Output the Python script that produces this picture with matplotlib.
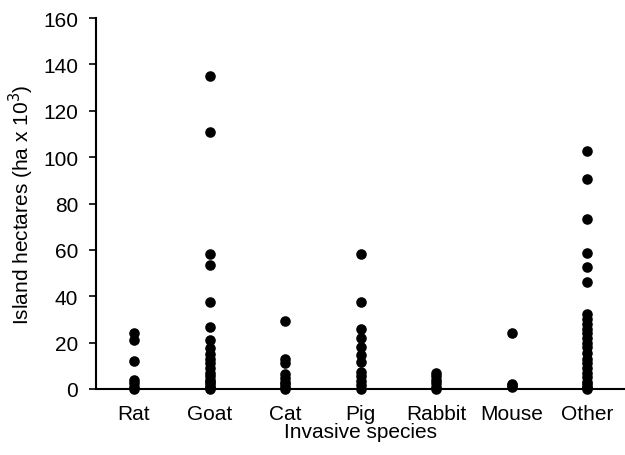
import matplotlib
matplotlib.use("Agg")
import matplotlib.pyplot as plt

plt.rcParams["font.family"] = ["Liberation Sans", "DejaVu Sans"]

species = ["Rat", "Goat", "Cat", "Pig", "Rabbit", "Mouse", "Other"]

rat = [24, 21, 12, 4, 2.5, 1, 0]
goat = [135, 111, 58, 53.5, 37.5, 26.5, 21, 17.5, 15, 13, 11, 9, 7,
        5.5, 4, 3, 2, 1, 0.5, 0]
cat = [29.5, 13, 11, 6.5, 4.5, 3, 2, 1, 0]
pig = [58, 37.5, 26, 22, 18, 14.5, 11.5, 7.5, 5.5, 3.5, 1.5, 0]
rabbit = [7, 5.5, 4, 2.5, 1, 0]
mouse = [24, 2.2, 1.5, 1]
other = [102.5, 90.5, 73.5, 58.5, 52.5, 46, 32.5, 30, 28, 26, 24, 22,
         20, 18, 15.5, 13, 11, 9, 7, 5, 3, 2, 1, 0.5, 0]

values = [rat, goat, cat, pig, rabbit, mouse, other]

fig = plt.figure(figsize=(6.25, 4.56), dpi=100)
ax = fig.add_axes([0.154, 0.145, 0.846, 0.813])

for i, vals in enumerate(values):
    ax.scatter([i + 1] * len(vals), vals, s=58, color="black",
               zorder=3, clip_on=False, linewidths=0)

ax.set_xlim(0.5, 7.5)
ax.set_ylim(0, 160)
ax.set_yticks(range(0, 161, 20))
ax.set_xticks(range(1, 8))
ax.set_xticklabels(species)
ax.tick_params(axis="x", length=0, labelsize=15, pad=11)
ax.tick_params(axis="y", direction="out", length=5, width=1.2,
               labelsize=15, pad=8)

for side in ["top", "right"]:
    ax.spines[side].set_visible(False)
for side in ["left", "bottom"]:
    ax.spines[side].set_linewidth(1.5)

ax.set_xlabel("Invasive species", fontsize=15, labelpad=-1)
ax.set_ylabel("Island hectares (ha x 10$^3$)", fontsize=15, labelpad=5)

fig.savefig("out.png", dpi=100)
